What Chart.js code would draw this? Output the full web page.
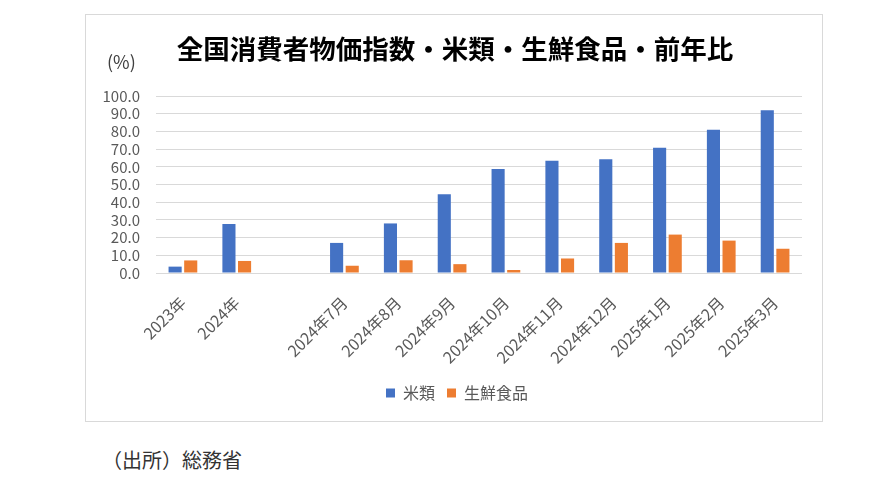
<!DOCTYPE html>
<html>
<head>
<meta charset="utf-8">
<script src="https://cdn.jsdelivr.net/npm/chart.js@4"></script>
<style>
  body { margin: 0; background: #fff; width: 886px; height: 477px; position: relative; font-family: "Noto Sans CJK JP", "Noto Sans", sans-serif; }
  #box { position: absolute; left: 85px; top: 14px; width: 736px; height: 406px; border: 1px solid #d9d9d9; }
  #source { position: absolute; left: 102px; top: 445px; font-size: 20px; color: #333; }
</style>
</head>
<body>
<div id="box"><canvas id="myChart"></canvas></div>
<div id="source">（出所）総務省</div>
<script>
const categories = ["2023年", "2024年", "", "2024年7月", "2024年8月", "2024年9月", "2024年10月", "2024年11月", "2024年12月", "2025年1月", "2025年2月", "2025年3月"];
const riceValues = [3.6, 27.7, null, 17.0, 28.0, 44.5, 58.7, 63.4, 64.3, 70.8, 81.0, 92.0];
const freshFoodValues = [7.1, 6.8, null, 4.1, 7.2, 5.0, 1.7, 8.2, 17.0, 21.7, 18.3, 13.7];
const yTicks = [0, 10, 20, 30, 40, 50, 60, 70, 80, 90, 100];

const chartTitle = "全国消費者物価指数・米類・生鮮食品・前年比";
const fontFamily = '"Noto Sans CJK JP", "Noto Sans", sans-serif';

// title and the (%) unit label, drawn in the space above the plot
const headerText = {
  id: "headerText",
  afterLayout(chart) {
    // centre the legend on the box, not on the left part of it
    chart.legend.left += 13;
    chart.legend.right += 13;
  },
  afterDraw(chart) {
    const ctx = chart.ctx;
    ctx.save();
    ctx.textBaseline = "middle";
    ctx.fillStyle = "#000";
    ctx.textAlign = "center";
    ctx.font = "bold 26.5px " + fontFamily;
    ctx.fillText(chartTitle, 369, 34);
    ctx.font = "18px " + fontFamily;
    ctx.fillStyle = "#404040";
    ctx.textAlign = "left";
    ctx.fillText("(%)", 21, 47);
    ctx.restore();
  }
};

let myChart = document.getElementById("myChart").getContext("2d");
let riceChart = new Chart(myChart, {
  type: "bar",
  data: {
    labels: categories,
    datasets: [
      {
        label: "米類",
        data: riceValues,
        backgroundColor: "#4472C4",
        categoryPercentage: 0.58,
        barPercentage: 0.84,
      },
      {
        label: "生鮮食品",
        data: freshFoodValues,
        backgroundColor: "#ED7D31",
        categoryPercentage: 0.58,
        barPercentage: 0.84,
      },
    ],
  },
  options: {
    responsive: true,
    maintainAspectRatio: false,
    animation: false,
    layout: { padding: { left: 0, right: 20, top: 81, bottom: 10 } },
    scales: {
      x: {
        grid: { display: false },
        border: { display: false },
        ticks: {
          color: "#595959",
          font: { family: fontFamily, size: 16 },
          minRotation: 45,
          maxRotation: 45,
          padding: 12,
          autoSkip: false,
        },
        afterFit(scale) { scale.height = 100; },
      },
      y: {
        min: 0,
        max: 100,
        grid: { color: "#d9d9d9", drawTicks: false },
        border: { display: false },
        afterBuildTicks(scale) { scale.ticks = yTicks.map(v => ({ value: v })); },
        afterFit(scale) { scale.width = 70; },
        ticks: {
          color: "#595959",
          font: { family: fontFamily, size: 15 },
          padding: 16,
          autoSkip: false,
          callback: v => v.toFixed(1),
        },
      },
    },
    plugins: {
      title: { display: false },
      legend: {
        display: true,
        position: "bottom",
        labels: {
          color: "#595959",
          font: { family: fontFamily, size: 16 },
          boxWidth: 9,
          boxHeight: 9,
          padding: 12,
        },
      },
      tooltip: { enabled: false },
    },
  },
  plugins: [headerText],
});
</script>
</body>
</html>
